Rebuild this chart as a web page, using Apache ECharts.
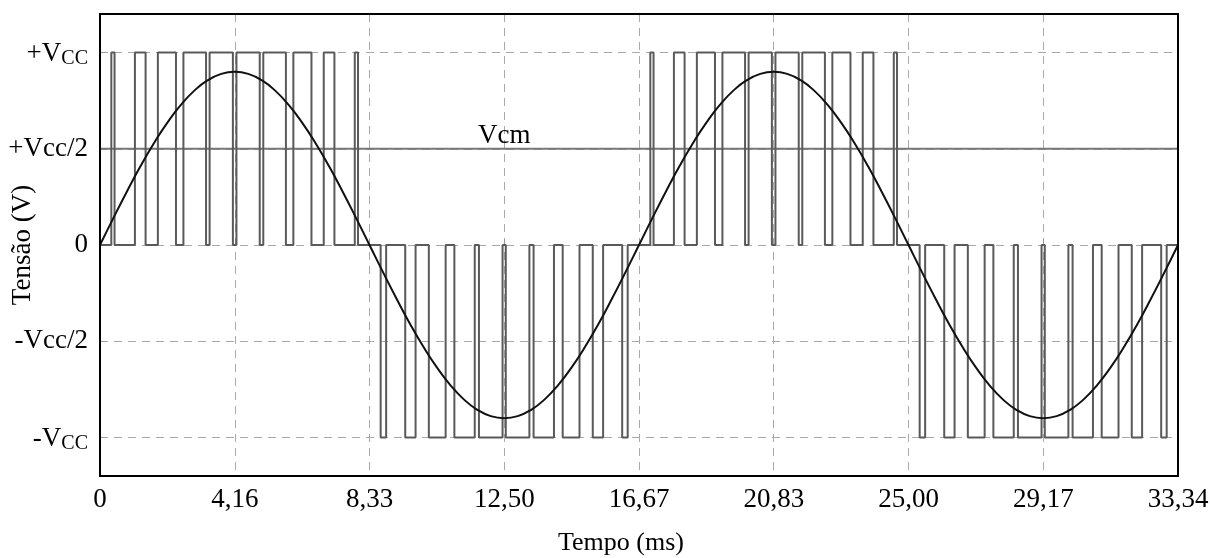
<!DOCTYPE html>
<html>
<head>
<meta charset="utf-8">
<script src="https://cdn.jsdelivr.net/npm/echarts@6/dist/echarts.min.js"></script>
<style>
html,body{margin:0;padding:0;background:#fff;}
#chart{width:1210px;height:558px;}
</style>
</head>
<body>
<div id="chart"></div>
<script>
// ---- data ----
var xTickValues = [0, 4.1675, 8.335, 12.5025, 16.67, 20.8375, 25.005, 29.1725, 33.34];
var xTickLabels = ['0', '4,16', '8,33', '12,50', '16,67', '20,83', '25,00', '29,17', '33,34'];
var yTickValues = [-1, -0.5, 0, 0.5, 1];
var yTickLabels = ['{v|-V}{s|CC}', '-Vcc/2', '0', '+Vcc/2', '{v|+V}{s|CC}'];

// PWM switching instants (ms) for each half cycle
var halfStarts = [0, 8.335, 16.67, 25.005];
var halfLevels = [1, -1, 1, -1];
var pwmEdgesP1 = [0.35, 0.45, 1.08, 1.41, 1.79, 2.35, 2.58, 3.28, 3.39, 4.11, 4.22, 4.94, 5.05, 5.75, 5.98, 6.54, 6.92, 7.25, 7.88, 7.98];
var pwmEdgesN1 = [8.68, 8.85, 9.44, 9.76, 10.17, 10.69, 10.96, 11.59, 11.72, 12.45, 12.55, 13.28, 13.41, 14.04, 14.31, 14.83, 15.24, 15.56, 16.15, 16.32];
var pwmEdgesP2 = [17.02, 17.12, 17.75, 18.08, 18.46, 19.02, 19.25, 19.95, 20.06, 20.78, 20.89, 21.61, 21.72, 22.42, 22.65, 23.21, 23.59, 23.92, 24.55, 24.65];
var pwmEdgesN2 = [25.35, 25.52, 26.11, 26.43, 26.84, 27.36, 27.63, 28.26, 28.39, 29.12, 29.22, 29.95, 30.08, 30.71, 30.98, 31.50, 31.91, 32.23, 32.82, 32.99];
var tEnd = 33.34;

// sine reference sampled every 0.41675 ms
var sineStep = 0.41675;
var sineValues = [
  0, 0.141, 0.278, 0.409, 0.529, 0.636, 0.728, 0.802, 0.856, 0.889, 0.900, 0.889, 0.856, 0.802, 0.728, 0.636, 0.529, 0.409, 0.278, 0.141,
  0, -0.141, -0.278, -0.409, -0.529, -0.636, -0.728, -0.802, -0.856, -0.889, -0.900, -0.889, -0.856, -0.802, -0.728, -0.636, -0.529, -0.409, -0.278, -0.141,
  0, 0.141, 0.278, 0.409, 0.529, 0.636, 0.728, 0.802, 0.856, 0.889, 0.900, 0.889, 0.856, 0.802, 0.728, 0.636, 0.529, 0.409, 0.278, 0.141,
  0, -0.141, -0.278, -0.409, -0.529, -0.636, -0.728, -0.802, -0.856, -0.889, -0.900, -0.889, -0.856, -0.802, -0.728, -0.636, -0.529, -0.409, -0.278, -0.141,
  0
];
var vcmLevel = 0.5;
var vcmLabelTime = 12.5;

// ---- build series data ----
var allEdges = [pwmEdgesP1, pwmEdgesN1, pwmEdgesP2, pwmEdgesN2];
var pwmData = [[0, 0]];
for (var h = 0; h < allEdges.length; h++) {
  var cur = 0;
  var edges = allEdges[h];
  for (var k = 0; k < edges.length; k++) {
    var next = (cur === 0) ? halfLevels[h] : 0;
    pwmData.push([edges[k], cur]);
    pwmData.push([edges[k], next]);
    cur = next;
  }
}
pwmData.push([tEnd, 0]);

var sineData = sineValues.map(function (v, i) { return [i * sineStep, v]; });

var serif = '"Liberation Serif","DejaVu Serif",serif';

function nearestLabel(vals, labels, v) {
  var best = 0, bd = Infinity;
  for (var i = 0; i < vals.length; i++) {
    var d = Math.abs(vals[i] - v);
    if (d < bd) { bd = d; best = i; }
  }
  return labels[best];
}

var chart = echarts.init(document.getElementById('chart'), null, {renderer: 'canvas'});
chart.setOption({
  animation: false,
  backgroundColor: '#fff',
  grid: {left: 100, right: 32, top: 14, bottom: 82, containLabel: false, outerBoundsMode: 'none',
    show: true, borderColor: '#000', borderWidth: 2, backgroundColor: 'transparent', z: 10},
  xAxis: {
    type: 'value', min: 0, max: tEnd,
    name: 'Tempo (ms)', nameLocation: 'middle', nameGap: 54, nameMoveOverlap: false,
    nameTextStyle: {fontFamily: serif, fontSize: 26, color: '#000', padding: [0, 36, 0, 0]},
    axisLine: {show: false},
    axisTick: {show: true, inside: true, length: 6, customValues: xTickValues, lineStyle: {color: '#999'}},
    axisLabel: {customValues: xTickValues, margin: 10, fontFamily: serif, fontSize: 27, color: '#000',
      formatter: function (v) { return nearestLabel(xTickValues, xTickLabels, v); }},
    splitLine: {show: true, showMinLine: false, showMaxLine: false, lineStyle: {color: '#aaa', type: [8, 6], width: 1}}
  },
  yAxis: {
    type: 'value', min: -1.2, max: 1.2,
    name: 'Tensão (V)', nameLocation: 'middle', nameGap: 64, nameMoveOverlap: false,
    nameTextStyle: {fontFamily: serif, fontSize: 27, color: '#000'},
    axisLine: {show: false},
    axisTick: {show: true, inside: true, length: 6, customValues: yTickValues, lineStyle: {color: '#999'}},
    axisLabel: {customValues: yTickValues, margin: 12, fontFamily: serif, fontSize: 27, color: '#000',
      formatter: function (v) { return nearestLabel(yTickValues, yTickLabels, v); },
      rich: {
        v: {fontFamily: serif, fontSize: 27, color: '#000', verticalAlign: 'bottom', lineHeight: 30},
        s: {fontFamily: serif, fontSize: 20, color: '#000', verticalAlign: 'bottom', lineHeight: 30, padding: [0, 0, -1, 0]}
      }},
    splitLine: {show: true, lineStyle: {color: '#aaa', type: [8, 6], width: 1}}
  },
  series: [
    {
      type: 'line', name: 'Vcm', data: [[0, vcmLevel], [tEnd, vcmLevel]],
      showSymbol: false, lineStyle: {color: '#777', width: 2}, z: 2,
      markPoint: {
        symbol: 'circle', symbolSize: 0, silent: true,
        data: [{coord: [vcmLabelTime, vcmLevel]}],
        label: {show: true, position: 'top', distance: -1, formatter: 'Vcm', fontFamily: serif, fontSize: 27, color: '#000'}
      }
    },
    {
      type: 'line', name: 'PWM', data: pwmData,
      showSymbol: false, lineStyle: {color: '#5a5a5a', width: 2}, z: 3
    },
    {
      type: 'line', name: 'Vref', data: sineData, smooth: true,
      showSymbol: false, lineStyle: {color: '#111', width: 2}, z: 4
    }
  ]
});
</script>
</body>
</html>
